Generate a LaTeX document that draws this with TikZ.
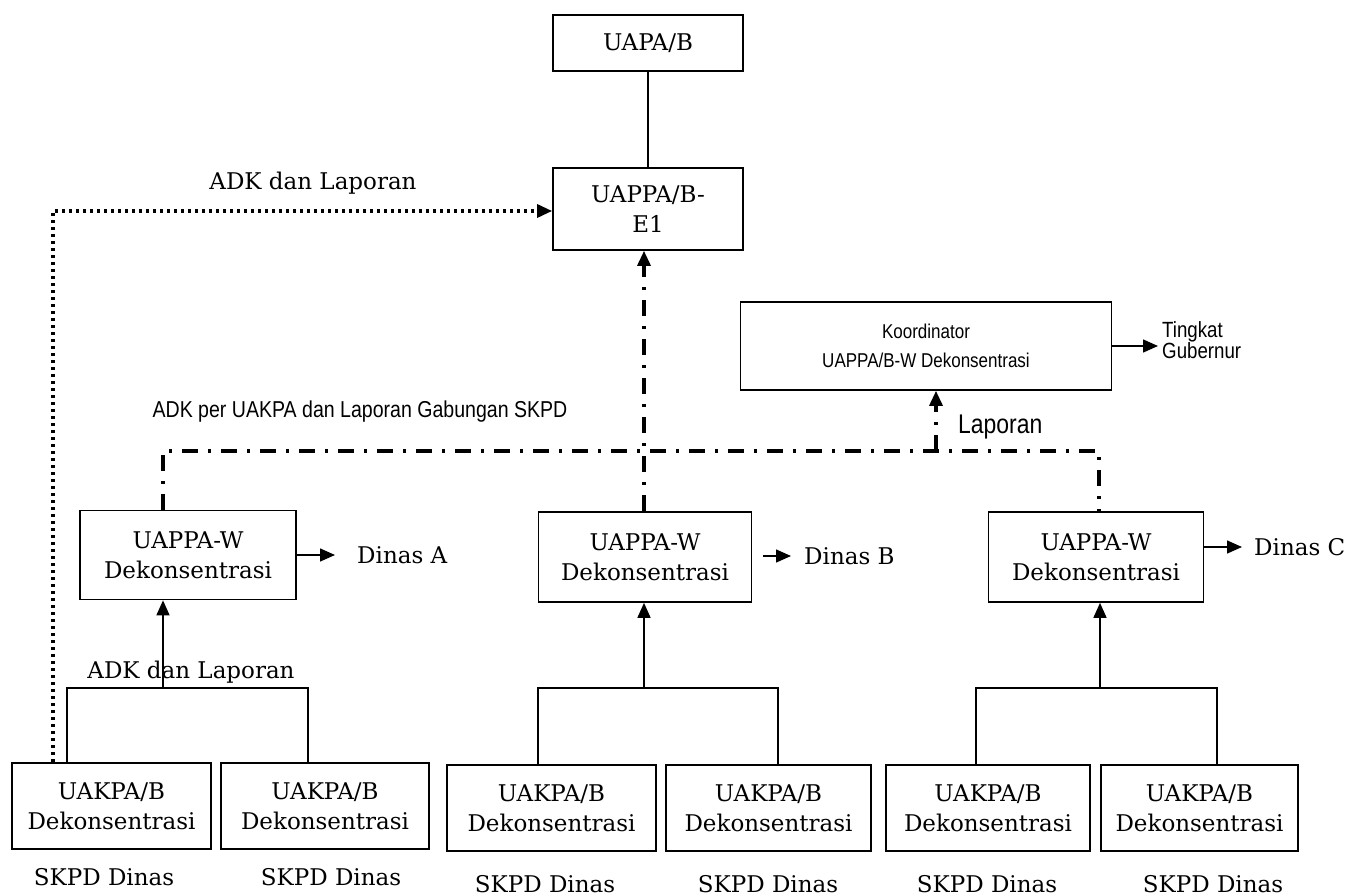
\documentclass[tikz,border=0pt]{standalone}
\usepackage{fontspec}
\setmainfont{DejaVu Serif}
\newfontfamily\narrowsf[FakeStretch=0.85]{Liberation Sans}
\usetikzlibrary{arrows.meta}

\begin{document}
\begin{tikzpicture}[x=1pt,y=-1pt,
  unit/.style={draw,line width=1.7pt,align=center,inner sep=0pt,font=\fontsize{23}{30}\selectfont},
  txt/.style={inner sep=0pt,font=\fontsize{23}{28}\selectfont},
  sftxt/.style={inner sep=0pt,align=left,font=\narrowsf\fontsize{22}{21}\selectfont},
  link/.style={line width=1.5pt},
  tip/.style={-{Triangle[length=15pt,width=13pt]}},
  dashdot/.style={line width=3.2pt,dash pattern=on 16pt off 10pt on 3pt off 10pt},
  dots/.style={line width=3.2pt,dash pattern=on 3pt off 4pt}]
\useasboundingbox (0,0) rectangle (1361,896);

% top of the tree
\node[unit,minimum width=190pt,minimum height=56pt] (uapa) at (648,43) {UAPA/B};
\node[unit,minimum width=190pt,minimum height=82pt] (e1) at (648,209) {UAPPA/B-\\E1};
\draw[link] (uapa.south) -- (e1.north);

% koordinator
\node[unit,minimum width=371pt,minimum height=88pt,font=\narrowsf\fontsize{20}{29}\selectfont] (koord) at (926,346) {Koordinator\\UAPPA/B-W Dekonsentrasi};
\node[sftxt,anchor=west] (gub) at (1162,340) {Tingkat\\Gubernur};
\draw[link,tip,shorten >=4pt] (koord.east) -- (koord.east -| gub.west);

% UAPPA-W
\node[unit,minimum width=216pt,minimum height=89pt] (wA) at (188,555) {UAPPA-W\\Dekonsentrasi};
\node[unit,minimum width=213pt,minimum height=90pt] (wB) at (645,557) {UAPPA-W\\Dekonsentrasi};
\node[unit,minimum width=215pt,minimum height=90pt] (wC) at (1096,557) {UAPPA-W\\Dekonsentrasi};
\node[txt,anchor=west] (dA) at (357,555) {Dinas A};
\node[txt,anchor=west] (dB) at (804,556) {Dinas B};
\node[txt,anchor=west] (dC) at (1254,547) {Dinas C};
\draw[link,tip,shorten >=22pt] (wA.east |- dA) -- (dA.west);
\draw[link,tip,shorten <=11pt,shorten >=13pt] (wB.east |- dB) -- (dB.west);
\draw[link,tip,shorten >=12pt] (wC.east |- dC) -- (dC.west);

% UAKPA
\node[unit,minimum width=199pt,minimum height=86pt] (k1) at (111.5,806) {UAKPA/B\\Dekonsentrasi};
\node[unit,minimum width=208pt,minimum height=86pt] (k2) at (325,806) {UAKPA/B\\Dekonsentrasi};
\node[unit,minimum width=209pt,minimum height=86pt] (k3) at (551.5,808) {UAKPA/B\\Dekonsentrasi};
\node[unit,minimum width=205pt,minimum height=86pt] (k4) at (768.5,808) {UAKPA/B\\Dekonsentrasi};
\node[unit,minimum width=204pt,minimum height=86pt] (k5) at (988,808) {UAKPA/B\\Dekonsentrasi};
\node[unit,minimum width=197pt,minimum height=86pt] (k6) at (1199.5,808) {UAKPA/B\\Dekonsentrasi};
\node[txt] (s1) at (104,877) {SKPD Dinas};
\node[txt] (s2) at (331,877) {SKPD Dinas};
\node[txt] (s3) at (545,884) {SKPD Dinas};
\node[txt] (s4) at (768,884) {SKPD Dinas};
\node[txt] (s5) at (987,884) {SKPD Dinas};
\node[txt] (s6) at (1213,884) {SKPD Dinas};

% joins below the UAPPA-W
\coordinate (jA) at (163,688);
\coordinate (jB) at (644,688);
\coordinate (jC) at (1100,688);
\draw[link] (k1.north -| 67,0) |- (jA) -| (k2.north -| 308,0);
\draw[link,tip] (jA) -- (jA |- wA.south);
\draw[link] (k3.north -| 538,0) |- (jB) -| (k4.north -| 778,0);
\draw[link,tip] (jB) -- (jB |- wB.south);
\draw[link] (k5.north -| 976,0) |- (jC) -| (k6.north -| 1217,0);
\draw[link,tip] (jC) -- (jC |- wC.south);
\node[txt] (adk2) at (191,672) {ADK dan Laporan};

% dash-dot reporting lines
\coordinate (hA) at (163,451);
\coordinate (hC) at (1099,451);
\coordinate (hK) at (936,451);
\draw[dashdot] (wA.north -| hA) -- (hA) -- (hC) -- (wC.north -| hC);
\draw[dashdot,tip] (wB.north -| jB) -- (e1.south -| jB);
\draw[dashdot,tip] (hK) -- (koord.south -| hK);
\node[sftxt,font=\narrowsf\fontsize{23}{23}\selectfont] (adkper) at (360,412) {ADK per UAKPA dan Laporan Gabungan SKPD};
\node[sftxt,anchor=west,font=\narrowsf\fontsize{27}{27}\selectfont] (lap) at (958,427) {Laporan};

% dotted line from the first UAKPA
\coordinate (dtop) at (53,211);
\draw[dots,tip] (k1.north -| dtop) -- (dtop) -- (e1.west |- dtop);
\node[txt] (adk1) at (313,183) {ADK dan Laporan};
\end{tikzpicture}
\end{document}
